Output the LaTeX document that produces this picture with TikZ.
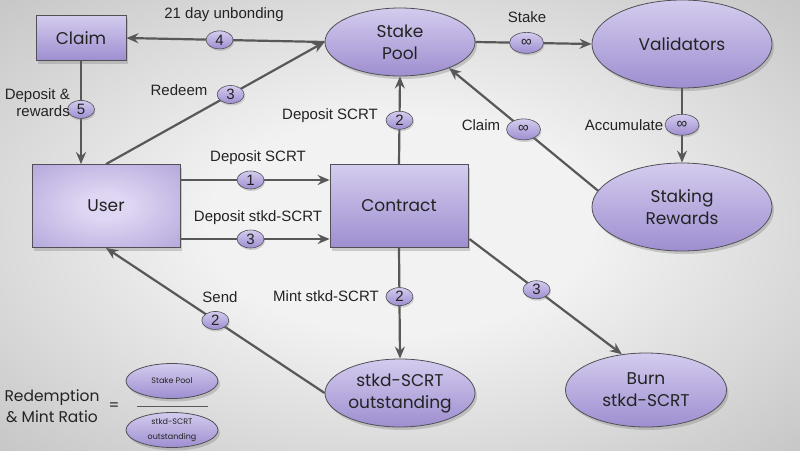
\documentclass[tikz,border=0pt]{standalone}
\usepackage{fontspec}
\setmainfont{Liberation Sans}
\newfontfamily\pop{Poppins}
\usetikzlibrary{arrows.meta,shapes.geometric,shadows,calc}
\definecolor{ptop}{RGB}{212,204,238}
\definecolor{pbot}{RGB}{158,142,208}
\definecolor{edgec}{RGB}{88,88,88}
\definecolor{bordc}{RGB}{80,80,86}
\definecolor{txtc}{RGB}{35,35,35}
\definecolor{bgin}{RGB}{242,242,242}
\definecolor{bgout}{RGB}{172,172,172}
\definecolor{uin}{RGB}{222,214,242}
\definecolor{uout}{RGB}{160,144,210}
\pgfdeclareradialshading{bgshade}{\pgfpoint{0bp}{0bp}}{color(0bp)=(bgin); color(12bp)=(bgin); color(50bp)=(bgout); color(75bp)=(bgout)}
\pgfdeclareradialshading{usershade}{\pgfpoint{0bp}{0bp}}{color(0bp)=(uin); color(8bp)=(uin); color(50bp)=(uout); color(75bp)=(uout)}
\tikzset{
  shad/.style={drop shadow={opacity=0.35, shadow xshift=2pt, shadow yshift=-3pt}},
  nodetext/.style={font=\pop\fontsize{17}{22}\selectfont, text=txtc, align=center, inner sep=0pt},
  box/.style={rectangle, draw=bordc, line width=0.8pt, top color=ptop, bottom color=pbot, shad, nodetext},
  ell/.style={ellipse, draw=bordc, line width=0.8pt, top color=ptop, bottom color=pbot, shad, nodetext},
  badge/.style={ellipse, draw=bordc, line width=0.6pt, top color=ptop, bottom color=pbot, minimum width=27pt, minimum height=18pt, inner sep=0pt, font=\fontsize{15}{15}\selectfont, text=txtc, drop shadow={opacity=0.3, shadow xshift=1pt, shadow yshift=-2pt}},
  inf/.style={badge, minimum width=34pt, minimum height=21pt},
  arr/.style={draw=edgec, line width=2.2pt, -{Stealth[length=12pt,width=10pt,inset=4pt]}},
  lbl/.style={font=\fontsize{15}{17}\selectfont, text=txtc, align=center, inner sep=0pt},
}
\begin{document}
\begin{tikzpicture}[x=1pt,y=-1pt]
\useasboundingbox (0,0) rectangle (800,450);
\shade[shading=bgshade] (0,0) rectangle (800,450);

% nodes
\node[box, minimum width=90pt, minimum height=45pt] (claim) at (81,38) {Claim};
\node[ell, minimum width=150pt, minimum height=68pt] (sp) at (400,42) {Stake\\Pool};
\node[ell, minimum width=180pt, minimum height=88pt] (val) at (682,44) {Validators};
\node[rectangle, draw=bordc, line width=0.8pt, shading=usershade, shad, nodetext, minimum width=148pt, minimum height=83pt] (user) at (106,206) {User};
\node[box, minimum width=138pt, minimum height=83pt] (contract) at (399,206) {Contract};
\node[ell, minimum width=180pt, minimum height=88pt] (sr) at (682,207) {Staking\\Rewards};
\node[ell, minimum width=150pt, minimum height=68pt] (out) at (400,393) {stkd-SCRT\\outstanding};
\node[ell, minimum width=161pt, minimum height=74pt] (burn) at (646,390) {Burn\\stkd-SCRT};

% ratio
\node[nodetext, font=\pop\fontsize{15.5}{21}\selectfont] (ratio) at (52,406) {Redemption\\\& Mint Ratio};
\node[nodetext, font=\pop\fontsize{15}{15}\selectfont] (eq) at (114,407) {=};
\node[ell, minimum width=92pt, minimum height=35pt, font=\pop\fontsize{8}{10}\selectfont] (rnum) at (172,381) {Stake Pool};
\node[ell, minimum width=92pt, minimum height=35pt, font=\pop\fontsize{8}{10}\selectfont] (rden) at (172,430) {stkd-SCRT\\[5pt]outstanding};
\draw[edgec, line width=0.8pt] (137,406) -- (208,406);

% connectors
\draw[arr] (sp.west) -- node[badge, pos=0.53] (b4) {4} (claim.east);
\draw[arr] (user.north) -- node[badge, pos=0.57] (b3r) {3} (sp.west);
\draw[arr] (claim.south) -- node[badge, pos=0.47] (b5) {5} (claim.south |- user.north);
\draw[arr] ($(user.east)+(0,-26)$) -- node[badge, pos=0.47] (b1) {1} ($(contract.west)+(0,-26)$);
\draw[arr] ($(user.east)+(0,33)$) -- node[badge, pos=0.47] (b3d) {3} ($(contract.west)+(0,33)$);
\draw[arr] (contract.north) -- node[badge, pos=0.5] (b2u) {2} (sp.south);
\draw[arr] (sp.east) -- node[inf, pos=0.44] (bst) {∞} (val.west);
\draw[arr] (val.south) -- node[inf, pos=0.49] (bac) {∞} (sr.north);
\draw[arr] (sr.169) -- node[inf, pos=0.5] (bcl) {∞} (sp.-28);
\draw[arr] (out.west) -- node[badge, pos=0.5] (bsend) {2} (user.south);
\draw[arr] (contract.south) -- node[badge, pos=0.44] (bmint) {2} (out.north);
\draw[arr] ($(contract.east)+(1,33)$) -- node[badge, pos=0.44] (bburn) {3} (burn.124);

% labels
\node[lbl] (l4) at (224,15) {21 day unbonding};
\node[lbl] (lred) at (179,90) {Redeem};
\node[lbl, align=right, anchor=east] (l5) at (70,103) {Deposit \&\\rewards};
\node[lbl] (l1) at (258,158) {Deposit SCRT};
\node[lbl] (l3) at (258,218) {Deposit stkd-SCRT};
\node[lbl] (l2u) at (330,116) {Deposit SCRT};
\node[lbl] (lst) at (527,17) {Stake};
\node[lbl] (lcl) at (481,125) {Claim};
\node[lbl] (lac) at (624,125) {Accumulate};
\node[lbl] (lsend) at (220,297) {Send};
\node[lbl] (lmint) at (326,296) {Mint stkd-SCRT};
\end{tikzpicture}
\end{document}
